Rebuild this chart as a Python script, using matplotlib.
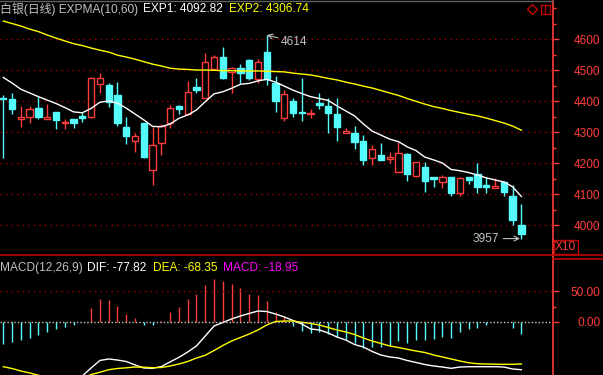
import numpy as np
import matplotlib
matplotlib.use("Agg")
import matplotlib.pyplot as plt
from matplotlib.lines import Line2D
from matplotlib.patches import Rectangle
from matplotlib.ticker import MultipleLocator, FixedLocator

plt.rcParams['font.family'] = ['Liberation Sans', 'Noto Sans CJK SC', 'DejaVu Sans']

# daily candles (60 bars)
opens = [4412, 4407, 4342, 4348, 4377, 4344, 4364, 4329, 4342, 4353,
         4348, 4455, 4453, 4420, 4316, 4273, 4329, 4178, 4264, 4329,
         4385, 4358, 4445, 4412, 4504, 4542, 4494, 4506, 4533, 4472,
         4558, 4458, 4345, 4401, 4366, 4359, 4394, 4385, 4359, 4297,
         4299, 4272, 4218, 4227, 4213, 4173, 4229, 4160, 4187, 4155,
         4141, 4155, 4103, 4155, 4165, 4130, 4119, 4141, 4094, 4001]
highs = [4420, 4428, 4385, 4385, 4413, 4390, 4366, 4342, 4343, 4366,
         4477, 4490, 4458, 4461, 4348, 4299, 4331, 4318, 4326, 4388,
         4387, 4465, 4474, 4555, 4549, 4574, 4510, 4519, 4535, 4535,
         4614, 4483, 4436, 4410, 4474, 4375, 4426, 4410, 4410, 4313,
         4320, 4291, 4259, 4266, 4237, 4270, 4234, 4205, 4203, 4156,
         4162, 4157, 4157, 4157, 4200, 4157, 4152, 4143, 4130, 4068]
lows = [4216, 4358, 4318, 4331, 4344, 4342, 4310, 4310, 4313, 4334,
        4345, 4426, 4383, 4320, 4261, 4237, 4218, 4130, 4227, 4313,
        4358, 4356, 4426, 4410, 4501, 4471, 4426, 4458, 4469, 4460,
        4453, 4366, 4337, 4350, 4337, 4345, 4375, 4297, 4273, 4297,
        4245, 4194, 4194, 4210, 4200, 4172, 4144, 4157, 4108, 4124,
        4119, 4096, 4096, 4132, 4103, 4105, 4119, 4094, 4001, 3957]
closes = [4409, 4374, 4348, 4374, 4350, 4350, 4340, 4334, 4329, 4345,
          4474, 4474, 4399, 4331, 4289, 4288, 4221, 4259, 4321, 4377,
          4374, 4429, 4436, 4526, 4542, 4476, 4508, 4492, 4476, 4526,
          4471, 4402, 4423, 4361, 4361, 4361, 4389, 4361, 4318, 4304,
          4270, 4211, 4246, 4211, 4221, 4232, 4164, 4203, 4144, 4148,
          4157, 4103, 4154, 4146, 4124, 4124, 4128, 4108, 4017, 3972]

exp1 = [4477, 4459, 4439, 4427, 4415, 4404, 4393, 4380, 4366, 4363,
        4377, 4397, 4401, 4394, 4378, 4359, 4340, 4319, 4318, 4327,
        4345, 4356, 4372, 4399, 4424, 4431, 4442, 4455, 4458, 4466,
        4471, 4462, 4449, 4436, 4425, 4415, 4409, 4403, 4385, 4369,
        4353, 4327, 4304, 4291, 4278, 4270, 4253, 4241, 4220, 4211,
        4201, 4180, 4176, 4170, 4162, 4153, 4146, 4140, 4124, 4092.82]
exp2 = [4659, 4651, 4643, 4633, 4625, 4614, 4604, 4595, 4586, 4580,
        4572, 4565, 4559, 4549, 4543, 4536, 4528, 4520, 4514, 4507,
        4504, 4503, 4501, 4501, 4500, 4499, 4499, 4498, 4498, 4498,
        4497, 4496, 4495, 4491, 4488, 4485, 4480, 4474, 4469, 4462,
        4456, 4449, 4443, 4435, 4427, 4419, 4409, 4400, 4391, 4383,
        4377, 4370, 4364, 4358, 4353, 4346, 4338, 4330, 4320, 4306.74]

# MACD(12,26,9)
dif = [-98, -96, -96, -96, -95, -94, -93, -92, -91, -88,
       -75, -62.7, -60.3, -62, -64.4, -70, -75, -75.5, -72.6, -65,
       -57.6, -48.9, -39, -22.8, -6.5, -0.8, 4.9, 9.8, 13.9, 17.9,
       17.1, 13, 8.2, 2.4, -3.3, -11.4, -13, -17.9, -24.5, -29.3,
       -36.7, -40.8, -48, -53.8, -57, -58.7, -62.8, -66, -69.3, -71.7,
       -73.4, -75.5, -73.4, -72.9, -72.9, -72.9, -72.9, -73.4, -76.6, -77.82]
dea = [-72.9, -75.8, -79.9, -83, -87, -89, -91, -92, -93, -92,
       -85.6, -82, -77.8, -75.8, -74.7, -73.4, -73.7, -74.5, -74.2, -71.7,
       -68.5, -64.4, -58.7, -54.3, -46.5, -38.3, -31, -25.3, -19.6, -13,
       -4.9, 0.8, 1.6, 1.6, -0.5, -2.4, -4.9, -9, -13, -16.3,
       -20.4, -26, -31, -35, -39, -41.6, -44.5, -47.3, -49.7, -53.8,
       -57, -60.3, -63.6, -66.5, -68, -68.5, -68.8, -69, -69, -68.35]
macd = [-35.5, -33.4, -30.1, -26.3, -21, -16.1, -11.8, -8.5, -4.3, -0.5,
        23, 37, 35.5, 26, 13, 6.5, -5, -5, 1.5, 16.6,
        24.7, 37, 45.6, 60.8, 70, 66.6, 62.4, 56, 45.6, 43.5,
        34, 16.6, 7.5, -5.9, -14, -18.3, -16.1, -18.8, -24.7, -28,
        -34.4, -43, -41.4, -40.9, -37.6, -31.7, -35, -29, -30.1, -28,
        -23.7, -25.3, -16.7, -10.8, -9.7, -5.4, -0.5, -0.8, -9.2, -18.95]

RED = '#ff3c3c'
CYAN = '#54fcfc'
GRID = '#a00000'
W, H = 603, 375

fig = plt.figure(figsize=(6.03, 3.75), dpi=100, facecolor='black')
ax = fig.add_axes([0, 1 - 255 / H, 553 / W, 255 / H], facecolor='black')
ax2 = fig.add_axes([0, 0, 553 / W, 120 / H], facecolor='black')

x = np.arange(len(closes))
o = np.array(opens, float)
c = np.array(closes, float)
up = c >= o
cols = np.where(up, RED, CYAN)

# candles
ax.vlines(x, lows, highs, colors=cols, linewidth=1, zorder=2)
bw = 0.72
ax.bar(x[up], (c - o)[up], bottom=o[up], width=bw, facecolor='black',
       edgecolor=RED, linewidth=1, zorder=3)
ax.bar(x[~up], (c - o)[~up], bottom=o[~up], width=bw, facecolor=CYAN,
       edgecolor=CYAN, linewidth=1, zorder=3)

ax.plot(x, exp1, color='white', lw=1, zorder=4)
ax.plot(x, exp2, color='#ffff00', lw=1, zorder=4)

ax.set_xlim(-0.376, 62.6)
ax.set_ylim(3904, 4727)
ax.yaxis.tick_right()
ax.yaxis.set_major_locator(FixedLocator([4000, 4100, 4200, 4300, 4400, 4500, 4600]))
ax.yaxis.set_minor_locator(MultipleLocator(50))
ax.tick_params(axis='y', which='major', colors=RED, length=4, width=1,
               labelsize=8.6, pad=30)
ax.tick_params(axis='y', which='minor', colors=RED, length=2.5, width=1)
for lab in ax.get_yticklabels():
    lab.set_horizontalalignment('right')
ax.set_xticks([])
ax.yaxis.grid(True, which='major', color=GRID, linestyle=(0, (1, 3)), lw=1)
for s in ['top', 'left', 'bottom']:
    ax.spines[s].set_visible(False)
ax.spines['right'].set_color(RED)
ax.spines['right'].set_linewidth(1.2)

# high / low marks
ax.annotate('4614', xy=(30, 4614), xytext=(10, -5), textcoords='offset points',
            color='#c0c0c0', fontsize=8.6, va='center', ha='left',
            arrowprops=dict(arrowstyle='->', color='#c0c0c0', lw=0.8,
                            shrinkA=0, shrinkB=0))
ax.annotate('3957', xy=(59, 3957), xytext=(-16, 0), textcoords='offset points',
            color='#c0c0c0', fontsize=8.6, va='center', ha='right',
            arrowprops=dict(arrowstyle='->', color='#c0c0c0', lw=0.8,
                            shrinkA=1, shrinkB=1))

# MACD pane
mv = np.array(macd)
ax2.vlines(x, 0, mv, colors=np.where(mv > 0, RED, CYAN), linewidth=1)
ax2.plot(x, dif, color='white', lw=1)
ax2.plot(x, dea, color='#ffff00', lw=1)
ax2.axhline(50, color=GRID, linestyle=(0, (1, 3)), lw=1)
ax2.axhline(0, color='#c8c8c8', linestyle=(0, (1, 1.5)), lw=1)
ax2.set_xlim(-0.376, 62.6)
ax2.set_ylim(-86.4, 109.2)
ax2.set_xticks([])
ax2.yaxis.tick_right()
ax2.yaxis.set_major_locator(FixedLocator([0, 50]))
ax2.yaxis.set_minor_locator(FixedLocator([25]))
ax2.yaxis.set_major_formatter(matplotlib.ticker.FormatStrFormatter('%.2f'))
ax2.tick_params(axis='y', which='major', colors=RED, length=4, width=1,
                labelsize=8.6, pad=30)
ax2.tick_params(axis='y', which='minor', colors=RED, length=2.5, width=1)
for lab in ax2.get_yticklabels():
    lab.set_horizontalalignment('right')
for s in ['top', 'left', 'bottom']:
    ax2.spines[s].set_visible(False)
ax2.spines['right'].set_color(RED)
ax2.spines['right'].set_linewidth(1.2)


def fx(px):
    return px / W


def fy(py):
    return 1 - py / H


# frame lines
fig.add_artist(Line2D([0, fx(553)], [fy(0.5), fy(0.5)], color='#606060', lw=1))
fig.add_artist(Line2D([0, 1], [fy(255), fy(255)], color='#c00000', lw=1.2))
fig.add_artist(Line2D([fx(553), 1], [fy(259.3), fy(259.3)], color='#c00000', lw=1.2))
fig.add_artist(Rectangle((fx(553.5), fy(253.5)), fx(24), 14 / H, fill=False,
                         edgecolor='#c00000', lw=1))
fig.text(fx(565.5), fy(246.5), 'X10', color=RED, fontsize=8.6, ha='center', va='center')

# small icons top right
fig.add_artist(Line2D([fx(531.7)], [fy(9.2)], marker='D', markersize=5.5,
                      markerfacecolor='none', markeredgecolor='#c00000', mew=1))
fig.add_artist(Rectangle((fx(541), fy(13.5)), fx(8.5), 8.5 / H, fill=False,
                         edgecolor='#c00000', lw=1))
fig.add_artist(Line2D([fx(545.2), fx(545.2)], [fy(13.5), fy(5)], color='#c00000', lw=1))

# titles
ty = fy(9.5)
fig.text(0, ty, '白银(日线) EXPMA(10,60)', color='#c0c0c0', fontsize=8.6, va='center')
fig.text(fx(142.7), ty, 'EXP1: 4092.82', color='white', fontsize=8.6, va='center')
fig.text(fx(229.3), ty, 'EXP2: 4306.74', color='#ffff00', fontsize=8.6, va='center')
my = fy(268)
fig.text(0, my, 'MACD(12,26,9)', color='#c0c0c0', fontsize=8.6, va='center')
fig.text(fx(87.3), my, 'DIF: -77.82', color='white', fontsize=8.6, va='center')
fig.text(fx(152.7), my, 'DEA: -68.35', color='#ffff00', fontsize=8.6, va='center')
fig.text(fx(222.7), my, 'MACD: -18.95', color='#ff00ff', fontsize=8.6, va='center')

fig.savefig('out.png', dpi=100, facecolor='black')
